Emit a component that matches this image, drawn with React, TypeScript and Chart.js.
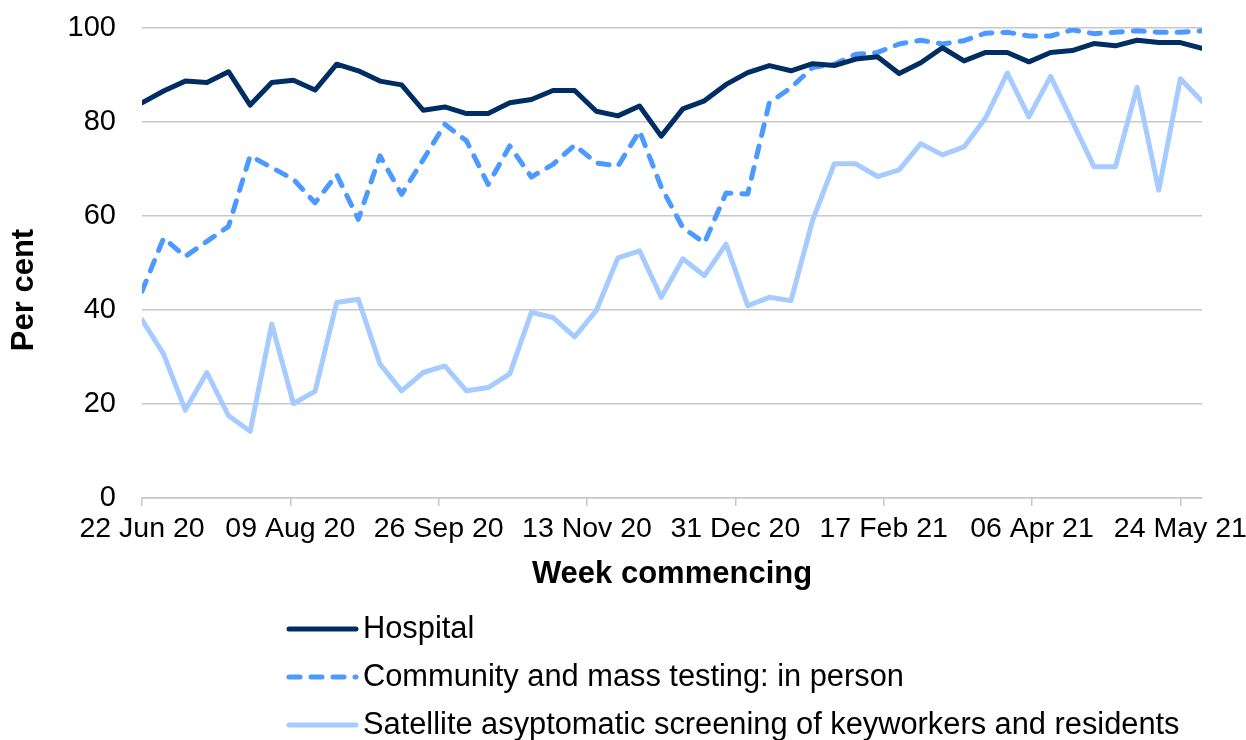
import React, { useEffect, useRef } from "react";
import { Chart, registerables } from "chart.js";

Chart.register(...registerables);

// X axis: days since 22 Jun 2020 (weekly points), ticks every 48 days
const tickLabels = ["22 Jun 20", "09 Aug 20", "26 Sep 20", "13 Nov 20", "31 Dec 20", "17 Feb 21", "06 Apr 21", "24 May 21"];
const tickDays = [0, 48, 96, 144, 192, 240, 288, 336];
const lastDay = 343;

const yTitle = "Per cent";
const xTitle = "Week commencing";

const seriesLabels = [
  "Hospital",
  "Community and mass testing: in person",
  "Satellite asyptomatic screening of keyworkers and residents",
];

const hospital = [
  84.1, 86.6, 88.7, 88.4, 90.7, 83.6, 88.4, 88.9, 86.8, 92.3,
  90.9, 88.7, 87.9, 82.5, 83.2, 81.8, 81.8, 84.1, 84.8, 86.7,
  86.7, 82.3, 81.3, 83.4, 77.0, 82.8, 84.5, 88.0, 90.5, 92.0,
  90.9, 92.4, 92.0, 93.4, 93.9, 90.3, 92.6, 95.8, 93.0, 94.8,
  94.8, 92.8, 94.8, 95.2, 96.7, 96.2, 97.4, 96.9, 96.9, 95.7,
];

const community = [
  44.0, 55.3, 51.4, 54.6, 57.8, 72.8, 70.3, 67.8, 62.8, 68.8,
  59.3, 72.8, 64.6, 72.0, 79.5, 76.0, 66.7, 74.9, 68.3, 71.0,
  75.1, 71.3, 70.6, 78.1, 66.2, 57.5, 54.3, 64.9, 64.7, 84.1,
  87.3, 91.6, 92.3, 94.4, 94.8, 96.6, 97.4, 96.6, 97.3, 98.9,
  99.1, 98.3, 98.3, 99.6, 98.8, 99.1, 99.4, 99.1, 99.1, 99.4,
];

const satellite = [
  37.9, 30.6, 18.7, 26.7, 17.5, 14.2, 37.0, 20.1, 22.7, 41.6,
  42.3, 28.5, 22.8, 26.7, 28.1, 22.8, 23.5, 26.4, 39.5, 38.4,
  34.3, 39.9, 51.1, 52.6, 42.7, 50.9, 47.3, 54.0, 40.9, 42.7,
  42.0, 59.1, 71.1, 71.1, 68.4, 69.8, 75.4, 73.0, 74.7, 80.9,
  90.4, 81.1, 89.7, 80.2, 70.5, 70.5, 87.4, 65.5, 89.2, 84.4,
];

const weekDays = hospital.map((_, i) => i * 7);

const FONT = '"Liberation Sans", Arial, sans-serif';

const customText = {
  id: "customText",
  afterDraw(chart: any) {
    const ctx = chart.ctx as CanvasRenderingContext2D;
    const area = chart.chartArea;

    // Y axis title
    ctx.save();
    ctx.translate(24, (area.top + area.bottom) / 2 + 27);
    ctx.rotate(-Math.PI / 2);
    ctx.fillStyle = "#000";
    ctx.font = `bold 31px ${FONT}`;
    ctx.textAlign = "center";
    ctx.textBaseline = "middle";
    ctx.fillText(yTitle, 0, 0);
    ctx.restore();

    // Stacked legend
    const left = area.left + 146;
    const rows = [chart.height - 111, chart.height - 63, chart.height - 15];
    chart.data.datasets.forEach((ds: any, i: number) => {
      const y = rows[i];
      ctx.save();
      ctx.strokeStyle = ds.borderColor;
      ctx.lineWidth = ds.borderWidth;
      ctx.lineCap = "round";
      ctx.setLineDash(ds.borderDash || []);
      ctx.beginPath();
      ctx.moveTo(left + 1, y);
      ctx.lineTo(left + 68, y);
      ctx.stroke();
      ctx.setLineDash([]);
      ctx.fillStyle = "#000";
      ctx.font = `30.8px ${FONT}`;
      ctx.textBaseline = "middle";
      ctx.textAlign = "left";
      ctx.fillText(ds.label, left + 75, y + 1);
      ctx.restore();
    });
  },
};

export default function App() {
  const ref = useRef<HTMLCanvasElement | null>(null);

  useEffect(() => {
    document.body.style.margin = "0";
    if (!ref.current) return;
    const toPts = (arr: number[]) => arr.map((v, i) => ({ x: weekDays[i], y: v }));
    const common = {
      borderWidth: 5,
      pointRadius: 0,
      borderJoinStyle: "round" as const,
      borderCapStyle: "round" as const,
      tension: 0,
    };
    const chart = new Chart(ref.current, {
      type: "line",
      data: {
        datasets: [
          { label: seriesLabels[0], data: toPts(hospital), borderColor: "#002D62", ...common },
          { label: seriesLabels[1], data: toPts(community), borderColor: "#4C9AFF", borderDash: [11, 11], ...common },
          { label: seriesLabels[2], data: toPts(satellite), borderColor: "#A5CBFF", ...common },
        ],
      },
      options: {
        animation: false,
        responsive: false,
        devicePixelRatio: 1,
        layout: { padding: { top: 28, right: 44, bottom: 142, left: 0 } },
        plugins: {
          legend: { display: false },
          tooltip: { enabled: false },
        },
        scales: {
          x: {
            type: "linear",
            min: 0,
            max: lastDay,
            bounds: "data",
            afterBuildTicks: (scale: any) => {
              scale.ticks = tickDays.map((v) => ({ value: v }));
            },
            afterFit: (scale: any) => {
              scale.height = 100;
              scale.paddingLeft = 0;
              scale.paddingRight = 0;
            },
            ticks: {
              autoSkip: false,
              maxRotation: 0,
              padding: 6,
              color: "#000",
              font: { family: FONT, size: 28.5 },
              callback: (value: any) => {
                const idx = tickDays.indexOf(Number(value));
                return idx >= 0 ? tickLabels[idx] : "";
              },
            },
            grid: {
              drawOnChartArea: false,
              drawTicks: true,
              tickLength: 8,
              color: "#c8c8c8",
              lineWidth: 1.5,
            },
            border: { display: true, color: "#c8c8c8", width: 1.5 },
            title: {
              display: true,
              text: xTitle,
              color: "#000",
              font: { family: FONT, size: 31, weight: "bold" },
              padding: { top: 0, bottom: 5 },
            },
          },
          y: {
            min: 0,
            max: 100,
            afterFit: (scale: any) => {
              scale.width = 142;
              scale.paddingTop = 0;
              scale.paddingBottom = 0;
            },
            ticks: {
              stepSize: 20,
              padding: 26,
              color: "#000",
              font: { family: FONT, size: 29 },
            },
            grid: {
              drawTicks: false,
              color: "#c8c8c8",
              lineWidth: 1.5,
            },
            border: { display: false },
            title: { display: false },
          },
        },
      },
      plugins: [customText],
    });
    return () => chart.destroy();
  }, []);

  return (
    <div style={{ width: 1246, height: 740, overflow: "hidden", background: "#fff" }}>
      <canvas ref={ref} width={1246} height={740} style={{ display: "block" }} />
    </div>
  );
}
